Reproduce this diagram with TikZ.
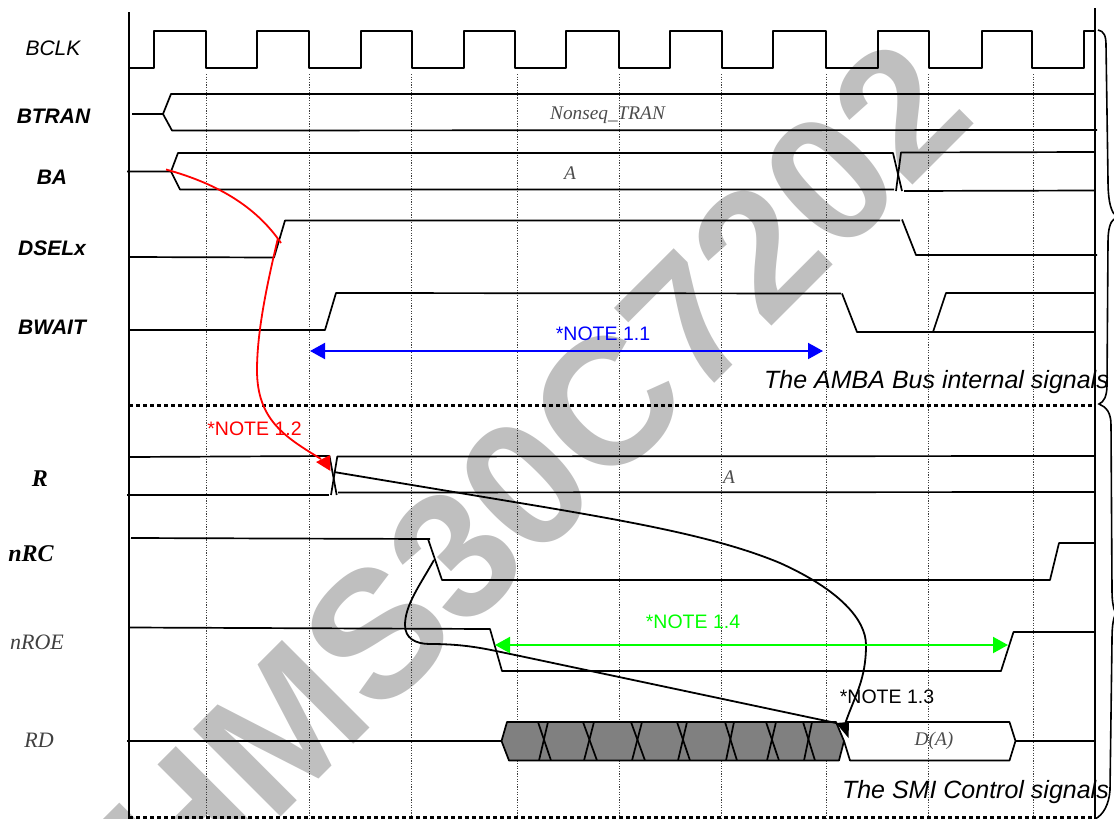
\documentclass[tikz,border=0pt]{standalone}
\usepackage{fontspec}
\setmainfont{Liberation Sans}
\newfontfamily\tms{Liberation Serif}
\usetikzlibrary{arrows.meta}
\tikzset{
  sig/.style={line width=1.7pt,line join=round,draw=black},
  grid line/.style={line width=0.9pt,draw=black!75,dash pattern=on 1.1pt off 1.5pt},
  sep line/.style={line width=3pt,draw=black,dash pattern=on 3.5pt off 3.5pt},
  frame line/.style={line width=2pt,draw=black},
  brace line/.style={line width=1.6pt,draw=black},
  wave/.style={line width=1.8pt,draw=black,line join=round},
  measure/.style={line width=2pt,{Triangle[length=15pt,width=16pt]}-{Triangle[length=15pt,width=16pt]}},
  siglabel/.style={inner sep=0pt,font=\fontsize{21}{21}\selectfont\itshape},
  siglabelb/.style={inner sep=0pt,font=\fontsize{21}{21}\selectfont\itshape\bfseries},
  serifb/.style={inner sep=0pt,font=\tms\fontsize{24}{24}\selectfont\itshape\bfseries},
  serifl/.style={inner sep=0pt,text=black!75,font=\tms\fontsize{22}{22}\selectfont\itshape},
  busval/.style={inner sep=0pt,text=black!70,font=\tms\fontsize{19.3}{19.3}\selectfont\itshape},
  note/.style={inner sep=0pt,font=\fontsize{19.5}{19.5}\selectfont},
  group/.style={inner sep=0pt,font=\fontsize{25}{25}\selectfont\itshape},
}
\begin{document}
\begin{tikzpicture}[x=1pt,y=-1pt]
\useasboundingbox (0,0) rectangle (1114,819);
% watermark
\begin{scope}
\clip (0,0) rectangle (1114,819);
\node[rotate=45,anchor=base east,inner sep=0pt,text=black!25,font=\fontsize{180}{180}\selectfont\bfseries] (wm) at (980,118) {HMS30C7202};
\end{scope}
% grid
\foreach \gx in {206,309,411,517,619,721,826,928,1033}
  \draw[grid line] (\gx,74) -- (\gx,819);
% frame
\draw[frame line] (129,12) -- (129,819);
\draw[frame line] (1094.5,8) -- (1094.5,819);
\draw[sep line] (129,405) -- (1092,405);
\draw[sep line] (129,817) -- (1092,817);
% BCLK
\draw[sig] (130,68) -- (154,68) -- (154,31) -- (206,31) -- (206,68) -- (257,68) -- (257,31) -- (309,31) -- (309,68)
 -- (361,68) -- (361,31) -- (412,31) -- (412,68) -- (464,68) -- (464,31) -- (515,31) -- (515,68)
 -- (566,68) -- (566,31) -- (619,31) -- (619,68) -- (670,68) -- (670,31) -- (722,31) -- (722,68)
 -- (773,68) -- (773,31) -- (826,31) -- (826,68) -- (878,68) -- (878,31) -- (929,31) -- (929,68)
 -- (982,68) -- (982,31) -- (1032,31) -- (1032,68) -- (1084,68) -- (1084,31) -- (1094,31);
% BTRAN
\draw[sig] (132,114) -- (163,114) -- (171,94) -- (1095,94);
\draw[sig] (163,114) -- (172,130.5) -- (1097,130);
% BA
\draw[sig] (127,171.5) -- (171,171.5) -- (178,153) -- (893,153) -- (902,191);
\draw[sig] (171,171.5) -- (180,189.5) -- (894,189.5);
\draw[sig] (896,191) -- (901,152.5) -- (1095,152);
\draw[sig] (904,191) -- (1095,190.5);
% DSELx
\draw[sig] (129,257) -- (274,257.5) -- (285,220.5) -- (900,220.5);
\draw[sig] (902,219.5) -- (916,255) -- (1097,255);
% BWAIT
\draw[sig] (129,330) -- (325,330) -- (336,293) -- (841,293.5);
\draw[sig] (842,293.5) -- (857,332) -- (1095,332);
\draw[sig] (933,332) -- (946,293) -- (1095,293);
% R
\draw[sig] (129,457) -- (329.5,456) -- (336.7,495);
\draw[sig] (127,495) -- (329,495);
\draw[sig] (331,495) -- (337.3,456.5) -- (1095,456);
\draw[sig] (338,492.5) -- (1095,492);
% nRC
\draw[sig] (131,538) -- (430,539);
\draw[sig] (428,539) -- (442,580) -- (1050,580) -- (1059,543) -- (1094,543);
% nROE
\draw[sig] (129,627.5) -- (490,629) -- (502,671) -- (1001,671) -- (1013.5,632) -- (1094,632);
% RD
\draw[sig] (127,741) -- (501,741);
\filldraw[sig,fill=black!50] (501.5,741) -- (507,722) -- (836,722) -- (844,741) -- (839,760.5) -- (509,760.5) -- cycle;
\foreach \xa/\xb in {538/551,583/597,631/645,677/690,725/737,766/779,803/815}{
  \draw[sig] (\xa,722) -- (\xb,760.5);
  \draw[sig] (\xb-3,722) -- (\xa+1,760.5);
}
\draw[sig] (844,741) -- (850,760.5) -- (1009.5,760.5) -- (1015.5,741) -- (1009.5,722) -- (846,722);
\draw[sig] (1015.5,741) -- (1095,741);
% named connector ends
\coordinate (redA) at (166,169.5);
\coordinate (redB) at (281,243);
\coordinate (redC) at (278,238);
\coordinate (redD) at (257,370);
\coordinate (redE) at (321,459);
\coordinate (blkA) at (334,472);
\coordinate (blkB) at (780,563);
\coordinate (blkC) at (866,645);
\coordinate (blkD) at (845,724);
\coordinate (blkE) at (434,560);
\coordinate (blkF) at (405,625);
\coordinate (blkG) at (430,644);
\coordinate (blkH) at (520,656);
\coordinate (blkI) at (836,723);
\coordinate (blueL) at (310,351);
\coordinate (blueR) at (823,351);
\coordinate (greenL) at (495,645);
\coordinate (greenR) at (1008,645);
% red connectors
\draw[red,line width=1.8pt] (redA) .. controls (215,183) and (255,205) .. (redB);
\draw[red,line width=1.8pt] (redC) .. controls (268,280) and (257,330) .. (redD) .. controls (257,420) and (285,437) .. (redE);
\fill[red] (316,462) -- (330,455) -- (330.5,471) -- cycle;
% black connectors
\draw[wave] (blkA) -- (520,503) .. controls (640,523) and (720,538) .. (blkB) .. controls (840,590) and (866,620) .. (blkC) .. controls (866,680) and (855,695) .. (blkD);
\draw[wave] (blkE) .. controls (420,585) and (405,605) .. (blkF) .. controls (405,638) and (415,644) .. (blkG) .. controls (470,644) and (490,650) .. (blkH) -- (blkI);
\fill[black] (836,723) -- (849,722) -- (848.5,738) -- cycle;
% measures
\draw[measure,draw=blue,fill=blue] (blueL) -- (blueR);
\draw[measure,draw=green,fill=green] (greenL) -- (greenR);
% brace
\begin{scope}
\clip (0,0) rectangle (1114,819);
\draw[brace line] (1098,30) .. controls (1104,31) and (1106,36) .. (1106,45) -- (1108,180) .. controls (1108,198) and (1110,208) .. (1114,214);
\draw[brace line] (1114,219) .. controls (1110,222) and (1108,230) .. (1108,242) -- (1107,385) .. controls (1107,396) and (1104,402) .. (1099,404)
  .. controls (1106,407) and (1111,412) .. (1111,425) -- (1112,590) .. controls (1112,600) and (1113,607) .. (1115,612);
\draw[brace line] (1115,615) .. controls (1113,620) and (1112,627) .. (1112,640) -- (1110,790) .. controls (1109,805) and (1103,815) .. (1095,819);
\end{scope}
% signal labels
\node[siglabel] (lbclk) at (53,48) {BCLK};
\node[siglabelb] (lbtran) at (53.5,116) {BTRAN};
\node[siglabelb] (lba) at (52,177) {BA};
\node[siglabelb] (ldsel) at (52,248) {DSELx};
\node[siglabelb] (lbwait) at (52,327) {BWAIT};
\node[serifb] (lr) at (40,479) {R};
\node[serifb] (lnrc) at (31,554) {nRC};
\node[serifl] (lnroe) at (37,642) {nROE};
\node[serifl] (lrd) at (39,740) {RD};
% bus values
\node[busval] (vtran) at (607.5,115) {Nonseq\_TRAN};
\node[busval] (va) at (570,173) {A};
\node[busval] (vra) at (729,477) {A};
\node[busval] (vda) at (934,741) {D(A)};
% notes
\node[note,text=blue] (n11) at (603,333.5) {*NOTE 1.1};
\node[note,text=red] (n12) at (254.5,429) {*NOTE 1.2};
\node[note,text=black] (n13) at (887,697) {*NOTE 1.3};
\node[note,text=green] (n14) at (693,622) {*NOTE 1.4};
\node[group,anchor=east] (gamba) at (1109,382) {The AMBA Bus internal signals};
\node[group,anchor=east] (gsmi) at (1109,792) {The SMI Control signals};
\end{tikzpicture}
\end{document}
